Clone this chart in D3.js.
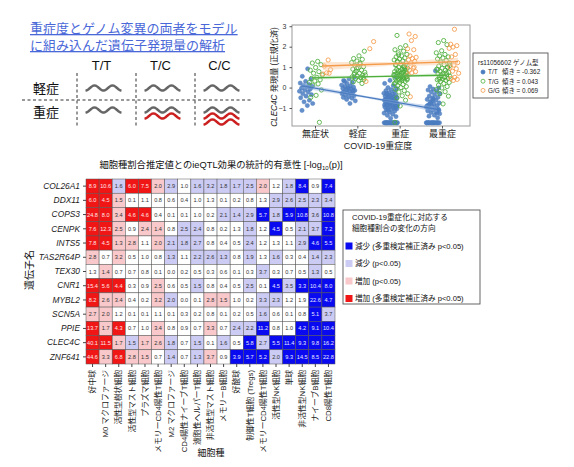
<!DOCTYPE html>
<html><head><meta charset="utf-8">
<script src="https://cdn.jsdelivr.net/npm/d3@7"></script>
<style>
body{margin:0;background:#fff}
svg{display:block}
text{font-family:"Liberation Sans","Noto Sans CJK JP",sans-serif}
</style>
</head><body>
<svg id="c" width="574" height="467"></svg>
<script>
// ---------------- DATA ----------------
const titleLines = ["重症度とゲノム変異の両者をモデル", "に組み込んだ遺伝子発現量の解析"];
const schemaGenotypes = ["T/T", "T/C", "C/C"];
const schemaRows = ["軽症", "重症"];
const schemaRedWaves = [[0, 0, 0], [0, 1, 2]];

const severities = ["無症状", "軽症", "重症", "最重症"];
const genotypes = ["T/T", "T/G", "G/G"];
const slopeLabels = ["傾き = -0.362", "傾き = 0.043", "傾き = 0.069"];
const slopes = [-0.362, 0.043, 0.069];
const fitAtFirst = [0.05, 0.48, 1.06];
const ciHalf = [[0.13, 0.05, 0.13], [0.1, 0.04, 0.09], [0.2, 0.09, 0.18]];

const exprTT = [
  [0.92, 0.55, 0.42, 0.3, 0.22, 0.15, 0.1, 0.06, 0.02, -0.03, -0.08, -0.12, -0.18, -0.22, -0.3, -0.35, -0.42, -0.5, -0.62, -0.7, -0.78, -0.88, -1.12, 0.0],
  [0.5, 0.42, 0.35, 0.25, 0.2, 0.12, 0.08, 0.05, 0.02, 0.0, -0.04, -0.08, -0.1, -0.14, -0.18, -0.2, -0.22, -0.26, -0.3, -0.32, -0.36, -0.4, -0.44, -0.48, -0.52, -0.58, -0.65, -0.78, 0.3, -0.15, -0.05, -0.25],
  [-1.72, -1.72, -1.72, -1.72, -1.72, -1.72, -1.72, -1.72, -1.72, -1.72, -1.72, -1.72, -1.72, -1.72, -1.72, -1.72, -1.72, -1.72, -1.72, -1.72, -1.72, -1.72,
   0.52, 0.35, 0.2, 0.1, 0.0, -0.05, -0.1, -0.15, -0.2, -0.25, -0.28, -0.31, -0.35, -0.38, -0.4, -0.43, -0.45, -0.48, -0.5, -0.52, -0.55, -0.58, -0.6, -0.62, -0.66, -0.68, -0.7, -0.72, -0.75, -0.78, -0.8, -0.83, -0.85, -0.88, -0.9, -0.92, -0.95, -0.98, -1.0, -1.04, -1.08, -1.1, -1.15, -1.2, -1.25, -1.3, -1.36, -1.42, -1.5, -0.6, -0.7, -0.4, -0.9, -0.55, -0.3, -1.0, -0.75, -0.85, -0.65, -1.12],
  [-1.72, -1.72, -1.72, -1.72, -1.72, -1.72, -1.72, -1.72, -1.72, -1.72, -1.72, -1.72, -1.72, -1.72, -1.72, -1.72, -1.72, -1.72,
   0.82, 0.05, -0.02, -0.08, -0.12, -0.18, -0.22, -0.3, -0.35, -0.42, -0.48, -0.52, -0.58, -0.62, -0.7, -0.75, -0.8, -0.84, -0.88, -0.92, -0.96, -1.0, -1.03, -1.06, -1.1, -1.14, -1.18, -1.22, -1.28, -1.35, -1.4, -1.48, -0.65, -0.9, -1.05, -0.78, -1.12, -0.55, -0.95, -1.25]
];
const exprTG = [
  [1.28, 1.2, 1.12, 0.98, 0.85, 0.78, 0.7, 0.62, 0.5, 0.45, 0.38, 0.32, 0.25, 0.18, 0.12, -0.12, -0.38, -0.48, -1.7],
  [1.78, 1.55, 1.42, 1.38, 1.3, 1.22, 1.15, 1.08, 1.02, 0.96, 0.9, 0.85, 0.8, 0.75, 0.7, 0.65, 0.6, 0.56, 0.52, 0.48, 0.44, 0.4, 0.35, 0.28, 0.2, 0.95, 0.62, 1.2, 0.72, 0.5],
  [2.55, 2.05, 1.95, 1.85, 1.78, 1.7, 1.62, 1.55, 1.5, 1.45, 1.4, 1.35, 1.3, 1.25, 1.2, 1.15, 1.1, 1.05, 1.0, 0.95, 0.9, 0.88, 0.85, 0.8, 0.78, 0.75, 0.72, 0.7, 0.68, 0.65, 0.62, 0.6, 0.58, 0.55, 0.52, 0.5, 0.48, 0.45, 0.42, 0.4, 0.38, 0.35, 0.32, 0.3, 0.25, 0.2, 0.15, 0.1, 0.05, 0.0, -0.08, -0.15, -0.22, -0.3, -0.4, -0.5, -0.62, -0.9, -1.7, 1.02, 0.82, 0.55, 0.7, 1.12, 0.92, 0.36, 0.64, 0.48, 1.28, 0.76, 0.58, 0.2, 0.98, 1.6, 0.44],
  [2.3, 2.2, 2.1, 1.8, 1.7, 1.62, 1.55, 1.5, 1.45, 1.4, 1.32, 1.25, 1.2, 1.12, 1.05, 1.0, 0.95, 0.9, 0.85, 0.8, 0.75, 0.7, 0.66, 0.62, 0.58, 0.55, 0.52, 0.48, 0.45, 0.42, 0.38, 0.35, 0.3, 0.25, 0.2, 0.12, 0.05, -0.02, -0.1, -0.2, -0.3, -0.42, -0.8, 0.88, 0.72, 0.6, 1.08, 0.5, 0.4, 0.98, 0.65]
];
const exprGG = [
  [1.35, 1.05, 0.88, 0.72, 0.66, 0.7],
  [2.25, 1.9, 0.3],
  [2.62, 2.5, 2.3, 1.9, 1.85, 1.55, 1.48, 1.42, 1.35, 1.28, 1.2, 1.08, 0.95, 0.85, 0.78, 0.72, 0.62, 1.0, -0.45],
  [2.85, 2.12, 2.05, 1.98, 1.92, 1.62, 1.5, 1.22, 1.1, 1.0, 0.92, 0.8, 0.7, 0.5, 0.45, 0.4, 0.35]
];
const yTicks = [-1, 0, 1, 2, 3];

const genes = ["COL26A1", "DDX11", "COPS3", "CENPK", "INTS5", "TAS2R64P", "TEX30", "CNR1", "MYBL2", "SCN5A", "PPIE", "CLEC4C", "ZNF641"];
const cellTypes = ["好中球", "M0 マクロファージ", "活性型樹状細胞", "活性型マスト細胞", "プラズマ細胞", "メモリーCD4陽性T細胞", "M2 マクロファージ", "CD4陽性ナイーブT細胞", "濾胞性ヘルパーT細胞", "非活性型マスト細胞", "メモリーB細胞", "好酸球", "制御性T細胞 (Tregs)", "メモリーCD4陽性T細胞", "活性型NK細胞", "単球", "非活性型NK細胞", "ナイーブB細胞", "CD8陽性T細胞"];
const logP = [
  [8.9, 10.6, 1.6, 6.0, 7.5, 2.0, 2.9, 1.0, 1.6, 3.2, 1.8, 1.7, 2.5, 2.0, 1.2, 1.8, 8.4, 0.9, 7.4],
  [6.0, 4.5, 1.5, 0.1, 1.1, 0.8, 0.6, 0.4, 1.0, 1.3, 0.1, 0.2, 0.8, 1.3, 2.9, 2.6, 2.5, 2.3, 3.4],
  [24.8, 8.0, 3.4, 4.6, 4.6, 0.4, 0.1, 0.1, 1.0, 0.2, 2.1, 1.4, 2.9, 5.7, 1.8, 5.9, 10.8, 3.6, 10.8],
  [7.6, 12.3, 2.5, 0.9, 2.4, 1.4, 0.8, 2.5, 2.4, 0.8, 0.2, 1.3, 1.8, 1.2, 4.5, 0.5, 2.1, 3.7, 7.2],
  [7.8, 4.5, 1.3, 2.8, 1.1, 2.0, 2.1, 1.8, 2.7, 0.8, 0.4, 0.5, 2.4, 1.2, 1.3, 1.1, 2.9, 4.6, 5.5],
  [2.8, 0.7, 3.2, 0.5, 1.0, 0.8, 1.3, 1.1, 2.2, 2.6, 1.3, 0.8, 1.9, 1.3, 1.6, 0.3, 0.4, 1.4, 2.3],
  [1.3, 1.4, 0.7, 0.7, 0.8, 0.1, 0.0, 0.2, 0.5, 0.3, 0.6, 0.1, 0.3, 3.7, 0.3, 0.7, 0.5, 1.3, 0.5],
  [15.4, 5.6, 4.4, 0.3, 0.9, 2.5, 0.6, 0.5, 1.5, 0.8, 0.4, 0.5, 2.5, 0.1, 4.5, 3.5, 3.3, 10.4, 8.0],
  [8.2, 2.6, 3.4, 0.4, 0.2, 3.2, 2.0, 0.0, 0.1, 2.8, 1.5, 1.0, 0.2, 3.3, 2.3, 1.2, 1.9, 22.6, 4.7],
  [2.7, 2.0, 1.2, 0.1, 0.1, 1.1, 0.1, 0.3, 0.2, 0.8, 0.1, 0.2, 0.5, 1.6, 0.6, 0.1, 0.8, 5.1, 3.7],
  [13.7, 1.7, 4.3, 0.7, 1.0, 3.4, 0.8, 0.9, 0.7, 3.3, 0.7, 2.4, 2.2, 11.2, 0.8, 1.0, 4.2, 9.1, 10.4],
  [40.1, 11.5, 1.7, 1.5, 1.7, 2.6, 1.8, 0.7, 1.5, 0.1, 1.6, 0.5, 5.8, 2.7, 5.5, 11.4, 9.3, 9.8, 16.2],
  [44.6, 3.3, 6.8, 2.8, 1.5, 0.7, 1.4, 0.7, 1.3, 3.7, 0.9, 3.9, 5.7, 5.2, 2.0, 9.3, 14.5, 8.5, 22.8]
];
// direction class: B=減少(補正済), L=減少, P=増加, R=増加(補正済), W=n.s.
const direction = [
  "RRLRRPLWLLLLLPWLBWB",
  "RRPWWWWWWWWWWWLLLLL",
  "RRPRRWWWWWLLLBLBBLB",
  "RRPWPPWLLWWWLWBWLLB",
  "RRPPWPLLLWWWLWWWLBB",
  "PWPWWWLWLLLWLWLWWLL",
  "WPWWWWWWWWWWWLWWWLW",
  "RRRWWPWWLWWWLWBLBBB",
  "RPPWWPLWWPPWWLLWWBB",
  "PPWWWWWWWWWWWLWWWBL",
  "RPRWWPWWWPWLLBWWBBB",
  "RRPLPPLWLWLWBLBBBBB",
  "RPRPPWLWLPWBBBLBBBB"
];
const legendTitle = ["COVID-19重症化に対応する", "細胞種割合の変化の方向"];
const legendKeys = ["B", "L", "P", "R"];
const legendLabels = ["減少 (多重検定補正済み p<0.05)", "減少 (p<0.05)", "増加 (p<0.05)", "増加 (多重検定補正済み p<0.05)"];

// ---------------- DRAW ----------------
const svg = d3.select("#c");

// ===== Title =====
svg.append("g").selectAll("text").data(titleLines).join("text")
  .attr("x", 30).attr("y", (d, i) => 33 + i * 17)
  .attr("font-size", 13).attr("fill", "#4a68d8")
  .attr("text-decoration", "underline")
  .text(d => d);

// ===== Schematic =====
const xS = d3.scaleBand().domain(schemaGenotypes).range([74, 251]);
const yS = d3.scaleBand().domain(schemaRows).range([76, 124]);
const sch = svg.append("g");
sch.selectAll(".hdr").data(schemaGenotypes).join("text")
  .attr("x", d => xS(d) + xS.bandwidth() / 2 - 2).attr("y", 70)
  .attr("text-anchor", "middle").attr("font-size", 13).attr("fill", "#111").text(d => d);
sch.selectAll(".vd").data(schemaGenotypes).join("line")
  .attr("x1", d => xS(d) + 3).attr("x2", d => xS(d) + 3).attr("y1", 73).attr("y2", 128)
  .attr("stroke", "#333").attr("stroke-width", 1).attr("stroke-dasharray", "3,2.5");
sch.append("line").attr("x1", 22).attr("x2", 253).attr("y1", yS("重症")).attr("y2", yS("重症"))
  .attr("stroke", "#333").attr("stroke-width", 1).attr("stroke-dasharray", "3,2.5");
sch.selectAll(".rl").data(schemaRows).join("text")
  .attr("x", 33).attr("y", d => yS(d) + yS.bandwidth() / 2 + 5)
  .attr("font-size", 13).attr("fill", "#111").text(d => d);
const waveLine = d3.line().curve(d3.curveBasis);
function wavePts(cx, cy) {
  const pts = [];
  for (let k = 0; k <= 32; k++) {
    const u = k / 32;
    pts.push([cx - 18 + 36 * u, cy + 2.6 * Math.cos(4 * Math.PI * u)]);
  }
  return pts;
}
schemaRows.forEach((r, ri) => {
  schemaGenotypes.forEach((g, gi) => {
    const cx = xS(g) + xS.bandwidth() / 2;
    const cy = yS(r) + yS.bandwidth() / 2 - (ri === 1 ? 2 : 0);
    sch.append("path").attr("d", waveLine(wavePts(cx, cy)))
      .attr("fill", "none").attr("stroke", "#666").attr("stroke-width", 2.4);
    d3.range(schemaRedWaves[ri][gi]).forEach(k => {
      sch.append("path").attr("d", waveLine(wavePts(cx, cy + 6 * (k + 1))))
        .attr("fill", "none").attr("stroke", "#cc1f1f").attr("stroke-width", 2.4);
    });
  });
});

// ===== Scatter =====
const px0 = 292, px1 = 470, py0 = 25, py1 = 126;
const xSc = d3.scalePoint().domain(severities).range([315, 442]);
const ySc = d3.scaleLinear().domain([-1.88, 3.06]).range([py1, py0]);
const gCol = ["#4b7cc0", "#4dae3b", "#f49a48"];
const bandCol = ["#8fb0dd", "#9fd595", "#f8c8a0"];
const dodge = [-9, 1, 12];
const jitHW = [7, 7, 5];
const sc = svg.append("g");
sc.append("rect").attr("x", px0).attr("y", py0).attr("width", px1 - px0).attr("height", py1 - py0)
  .attr("fill", "#fff").attr("stroke", "#9a9a9a").attr("stroke-width", 1);
const exprAll = [exprTT, exprTG, exprGG];
const pts = [];
exprAll.forEach((arr, gi) => {
  arr.forEach((vals, si) => {
    vals.forEach((v, i) => {
      const jit = (((i + 1) * 0.6180339887 + si * 0.31) % 1 - 0.5) * 2 * jitHW[gi];
      pts.push({ g: gi, x: xSc(severities[si]) + dodge[gi] + jit, y: ySc(v) });
    });
  });
});
[0, 1, 2].forEach(gi => {
  sc.append("g").selectAll("circle").data(pts.filter(p => p.g === gi)).join("circle")
    .attr("cx", d => d.x).attr("cy", d => d.y).attr("r", 2.1)
    .attr("fill", gi === 0 ? gCol[0] : "none").attr("fill-opacity", 0.85)
    .attr("stroke", gCol[gi]).attr("stroke-width", gi === 0 ? 0.5 : 0.85);
});
// fitted lines with bands
[0, 1, 2].forEach(gi => {
  const xa = xSc(severities[0]) + dodge[gi] - 4;
  const xb = xSc(severities[3]) + dodge[gi] + 4;
  const step = xSc.step();
  const valAt = x => fitAtFirst[gi] + slopes[gi] * ((x - (xSc(severities[0]) + dodge[gi])) / step);
  const hw = t => { const c = ciHalf[gi]; return t < 0.5 ? c[0] + (c[1] - c[0]) * t * 2 : c[1] + (c[2] - c[1]) * (t - 0.5) * 2; };
  const n = 30;
  const bpts = d3.range(n + 1).map(k => { const t = k / n; const x = xa + (xb - xa) * t; return { x, v: valAt(x), h: hw(t) }; });
  sc.append("path").datum(bpts)
    .attr("d", d3.area().curve(d3.curveMonotoneX).x(d => d.x).y0(d => ySc(d.v - d.h)).y1(d => ySc(d.v + d.h)))
    .attr("fill", bandCol[gi]).attr("fill-opacity", 0.45);
  sc.append("line").attr("x1", xa).attr("x2", xb).attr("y1", ySc(valAt(xa))).attr("y2", ySc(valAt(xb)))
    .attr("stroke", gCol[gi]).attr("stroke-width", 1.3);
});
// axes
const ax = sc.append("g").attr("transform", `translate(${px0},0)`)
  .call(d3.axisLeft(ySc).tickValues(yTicks).tickSize(2.5).tickFormat(d3.format("d")));
ax.select(".domain").remove();
ax.selectAll("line").attr("stroke", "#555");
ax.selectAll("text").attr("font-size", 7).attr("fill", "#333");
const bx = sc.append("g").attr("transform", `translate(0,${py1})`)
  .call(d3.axisBottom(xSc).tickSize(2.5));
bx.select(".domain").remove();
bx.selectAll("line").attr("stroke", "#555");
bx.selectAll("text").attr("font-size", 9).attr("fill", "#222").attr("y", 5);
sc.append("text").attr("x", 378).attr("y", 149).attr("text-anchor", "middle")
  .attr("font-size", 9).attr("fill", "#222").text("COVID-19重症度");
const yl = sc.append("text").attr("transform", "translate(277,77) rotate(-90)")
  .attr("text-anchor", "middle").attr("font-size", 8.2).attr("fill", "#222");
yl.append("tspan").attr("font-style", "italic").text("CLEC4C");
yl.append("tspan").text(" 発現量 (正規化済)");
// scatter legend
const lg = sc.append("g");
lg.append("rect").attr("x", 473).attr("y", 53).attr("width", 75).attr("height", 45)
  .attr("fill", "#fff").attr("stroke", "#555").attr("stroke-width", 0.9);
lg.append("text").attr("x", 478).attr("y", 64.5).attr("font-size", 6.4).attr("fill", "#222").text("rs11056602 ゲノム型");
genotypes.forEach((g, gi) => {
  const yy = 72 + gi * 9.2;
  lg.append("circle").attr("cx", 483).attr("cy", yy).attr("r", 2)
    .attr("fill", gi === 0 ? gCol[0] : "none").attr("stroke", gCol[gi]).attr("stroke-width", 0.8);
  lg.append("text").attr("x", 488).attr("y", yy + 2.3).attr("font-size", 6.4).attr("fill", "#222").text(g);
  lg.append("text").attr("x", 502).attr("y", yy + 2.3).attr("font-size", 6.4).attr("fill", "#222").text(slopeLabels[gi]);
});

// ===== Heatmap =====
const hx0 = 86, hx1 = 335, hy0 = 179, hy1 = 364;
const colIdx = d3.range(cellTypes.length);
const xH = d3.scaleBand().domain(colIdx).range([hx0, hx1]);
const yH = d3.scaleBand().domain(genes).range([hy0, hy1]);
const fillMap = { B: "#0a0af0", L: "#cbcbf3", P: "#f8c8ca", R: "#f01616", W: "#ffffff" };
const txtMap = { B: "#e8e8ff", L: "#333", P: "#333", R: "#ffe8e8", W: "#333" };
const cells = [];
genes.forEach((g, r) => colIdx.forEach(c => cells.push({ g, c, v: logP[r][c], k: direction[r][c] })));
const hm = svg.append("g");
hm.selectAll("rect").data(cells).join("rect")
  .attr("x", d => xH(d.c)).attr("y", d => yH(d.g)).attr("width", xH.bandwidth()).attr("height", yH.bandwidth())
  .attr("fill", d => fillMap[d.k]).attr("stroke", "#555").attr("stroke-width", 0.5);
hm.selectAll("text").data(cells).join("text")
  .attr("x", d => xH(d.c) + xH.bandwidth() / 2).attr("y", d => yH(d.g) + yH.bandwidth() / 2 + 2)
  .attr("text-anchor", "middle").attr("font-size", 5.6).attr("fill", d => txtMap[d.k])
  .text(d => d.v.toFixed(1));
const hl = svg.append("g").attr("transform", `translate(${hx0},0)`).call(d3.axisLeft(yH).tickSize(3));
hl.select(".domain").remove();
hl.selectAll("line").attr("stroke", "#444");
hl.selectAll("text").attr("font-size", 8.4).attr("font-style", "italic").attr("fill", "#222");
const hb = svg.append("g").attr("transform", `translate(0,${hy1})`)
  .call(d3.axisBottom(xH).tickSize(3).tickFormat(i => cellTypes[i]));
hb.select(".domain").remove();
hb.selectAll("line").attr("stroke", "#444");
hb.selectAll("text").attr("font-size", 7.8).attr("fill", "#222")
  .attr("transform", "rotate(-90)").attr("text-anchor", "end")
  .attr("x", -6).attr("y", 0).attr("dy", "0.35em");
const ht = svg.append("text").attr("x", 221).attr("y", 168).attr("text-anchor", "middle")
  .attr("font-size", 9.3).attr("fill", "#111");
ht.append("tspan").text("細胞種割合推定値とのieQTL効果の統計的有意性 [-log");
ht.append("tspan").attr("font-size", 6).attr("dy", 2).text("10");
ht.append("tspan").attr("dy", -2).text("(p)]");
svg.append("text").attr("transform", "translate(33,270) rotate(-90)").attr("text-anchor", "middle")
  .attr("font-size", 10).attr("fill", "#111").text("遺伝子名");
svg.append("text").attr("x", 211).attr("y", 456).attr("text-anchor", "middle")
  .attr("font-size", 9).attr("fill", "#111").text("細胞種");

// heatmap legend
const hlg = svg.append("g");
hlg.append("rect").attr("x", 343).attr("y", 210).attr("width", 137).attr("height", 94)
  .attr("fill", "#fff").attr("stroke", "#555").attr("stroke-width", 0.9);
hlg.selectAll(".lt").data(legendTitle).join("text")
  .attr("x", 352).attr("y", (d, i) => 220 + i * 11).attr("font-size", 7.6).attr("fill", "#111").text(d => d);
legendKeys.forEach((k, i) => {
  const yy = 246 + i * 17.5;
  hlg.append("rect").attr("x", 345.5).attr("y", yy - 3.5).attr("width", 7).attr("height", 7).attr("fill", fillMap[k]);
  hlg.append("text").attr("x", 355).attr("y", yy + 2.8).attr("font-size", 7.6).attr("fill", "#111").text(legendLabels[i]);
});
</script>
</body></html>
